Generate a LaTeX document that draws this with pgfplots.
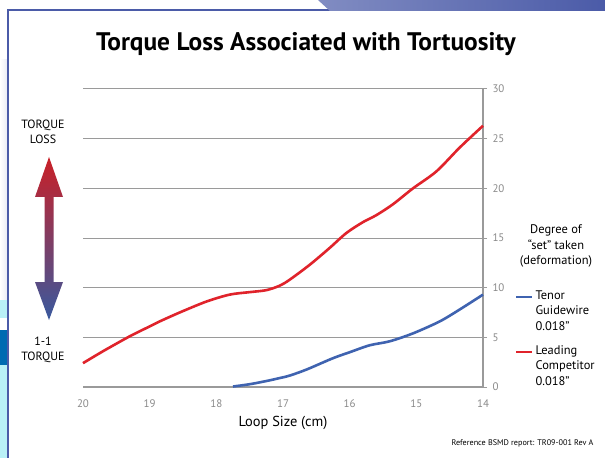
\documentclass[border=0pt]{standalone}
\usepackage{fontspec}
\setmainfont{PT Sans}
\usepackage{pgfplots}
\pgfplotsset{compat=1.18}

\definecolor{tenor}{HTML}{3F63B0}
\definecolor{comp}{HTML}{E0232B}
\definecolor{frame}{HTML}{4B5BA8}
\definecolor{tickgray}{HTML}{8A8A8A}
\definecolor{gridgray}{HTML}{9A9A9A}

\begin{document}
\begin{tikzpicture}[x=1bp,y=-1bp]
% page and frame
\path[use as bounding box,fill=white] (0,0) rectangle (605,458);
\shade[left color=white,right color=frame!12] (0,60) rectangle (7,300);
\fill[frame!30!cyan!30] (0,300) rectangle (7,318);
\fill[blue!40!cyan!70!black] (0,330) rectangle (7,365);
\fill[frame!30!cyan!30] (0,365) rectangle (7,458);
\draw[frame,line width=2bp] (7.5,458) -- (7.5,10) -- (330,10);
\shade[left color=frame!70,right color=frame] (318,0) -- (605,0) -- (605,11) -- (330,11) -- cycle;

\begin{axis}[
  at={(83bp,-387bp)}, anchor=south west,
  scale only axis, width=400bp, height=298bp,
  x dir=reverse,
  xmin=14, xmax=20, ymin=0, ymax=30,
  axis x line*=bottom, axis y line*=right,
  axis line style={draw=gridgray, line width=1.2bp},
  xtick={20,19,...,14}, ytick={0,5,...,30},
  ymajorgrids, major grid style={gridgray, line width=1bp},
  major x tick style={draw=none},
  major y tick style={gridgray, line width=1bp},
  tick align=outside, major tick length=4bp,
  tick label style={font=\fontsize{11}{13}\selectfont, text=tickgray},
  /pgf/number format/assume math mode=true,
  xticklabel style={yshift=-5bp},
  yticklabel style={xshift=2bp},
  xlabel={Loop Size (cm)},
  xlabel style={font=\fontsize{14.5}{17}\selectfont, yshift=-2bp},
  clip=false,
  legend style={at={(rel axis cs:1.072,0.338)}, anchor=north west, draw=none, fill=none,
    font=\fontsize{12.5}{15.5}\selectfont, row sep=10bp,
    cells={align=left, anchor=west}},
  legend image code/.code={\draw[#1] (0bp,14bp) -- (16bp,14bp);},
]
\addplot[tenor, line width=2.6bp, smooth, tension=0.5] coordinates {
(17.75,0.05) (17.5,0.28) (17.25,0.6) (17.05,0.9) (16.9,1.15) (16.65,1.75)
(16.25,2.9) (16,3.5) (15.7,4.2) (15.4,4.6) (15.05,5.4) (14.65,6.6)
(14.35,7.8) (14,9.3)};
\addlegendentry{Tenor\\Guidewire\\0.018”}
\addplot[comp, line width=2.6bp, smooth, tension=0.5] coordinates {
(20,2.4) (19.7,3.6) (19.3,5.1) (19,6.1) (18.85,6.6) (18.55,7.5) (18.15,8.6)
(17.8,9.3) (17.5,9.55) (17.25,9.75) (17.05,10.2) (16.9,10.8) (16.6,12.3)
(16.3,14.0) (16.05,15.5) (15.8,16.6) (15.6,17.3) (15.35,18.4) (15.05,20.0)
(14.7,21.7) (14.35,24.1) (14,26.3)};
\addlegendentry{Leading\\Competitor\\0.018”}
\end{axis}

% title
\node[font=\bfseries\fontsize{25.5}{30}\selectfont] at (306,44) {Torque Loss Associated with Tortuosity};
% right-hand caption
\node[align=center, font=\fontsize{12.5}{15.5}\selectfont] at (556,246) {Degree of\\“set” taken\\(deformation)};
% left-hand scale
\node[align=center, font=\fontsize{12}{15}\selectfont] at (43,132) {TORQUE\\LOSS};
\node[align=center, font=\fontsize{12}{15}\selectfont] at (43,350) {1-1\\TORQUE};
\shade[top color=comp!90!black, bottom color=tenor!90!black]
  (49,157) -- (63,197) -- (53.5,197) -- (53.5,282) -- (63,282) -- (49,320)
  -- (35,282) -- (44.5,282) -- (44.5,197) -- (35,197) -- cycle;
% footnote
\node[anchor=east, font=\fontsize{8.2}{10}\selectfont] at (597,443) {Reference BSMD report: TR09-001 Rev A};
\end{tikzpicture}
\end{document}
